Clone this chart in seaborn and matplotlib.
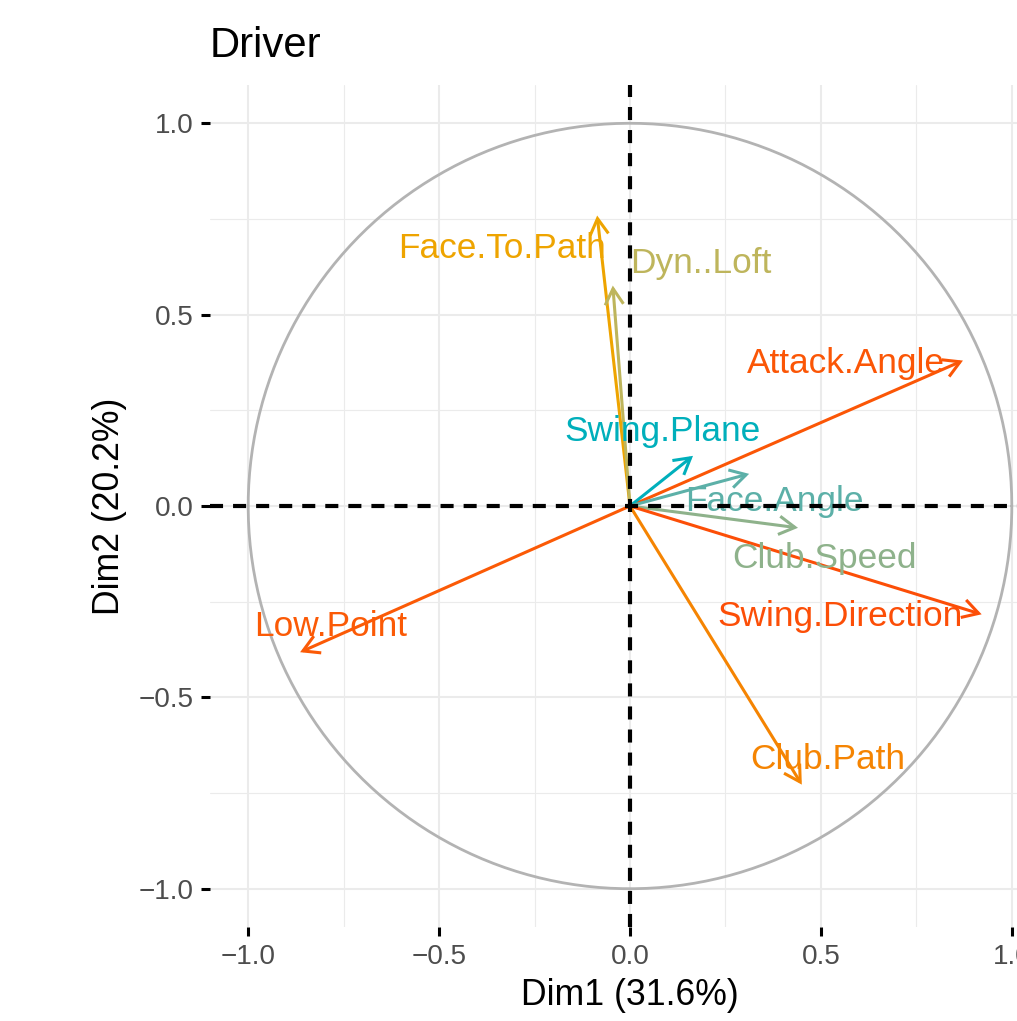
import numpy as np
import matplotlib
matplotlib.use("Agg")
import matplotlib.pyplot as plt
from matplotlib.patches import FancyArrowPatch
import seaborn as sns
import pandas as pd

# ---------------- data ----------------
variables = ["Face.To.Path", "Dyn..Loft", "Attack.Angle", "Swing.Plane", "Face.Angle",
             "Club.Speed", "Swing.Direction", "Low.Point", "Club.Path"]
dim1 = [-0.086, -0.045, 0.872, 0.165, 0.312, 0.440, 0.921, -0.864, 0.450]
dim2 = [0.759, 0.576, 0.380, 0.131, 0.084, -0.057, -0.283, -0.382, -0.728]
# label placement relative to arrow tip (repelled labels), data units
label_dx = [-0.250, 0.231, -0.307, -0.079, 0.065, 0.070, -0.371, 0.079, 0.068]
label_dy = [-0.112, 0.034, -0.033, 0.039, -0.097, -0.105, -0.031, 0.042, 0.041]
gradient_cols = ["#00AFBB", "#E7B800", "#FC4E07"]
xlabel = "Dim1 (31.6%)"
ylabel = "Dim2 (20.2%)"
title = "Driver"
ticks = [-1.0, -0.5, 0.0, 0.5, 1.0]
tick_labels = ["\u22121.0", "\u22120.5", "0.0", "0.5", "1.0"]

df = pd.DataFrame({"var": variables, "x": dim1, "y": dim2})
df["cos2"] = df.x ** 2 + df.y ** 2


# ---------------- colour scale (Lab interpolation like ggplot) ----------------
def hex_to_rgb(h):
    h = h.lstrip("#")
    return np.array([int(h[i:i + 2], 16) / 255 for i in (0, 2, 4)])

M = np.array([[0.4124564, 0.3575761, 0.1804375],
              [0.2126729, 0.7151522, 0.0721750],
              [0.0193339, 0.1191920, 0.9503041]])
WP = np.array([0.95047, 1.0, 1.08883])

def rgb_to_lab(rgb):
    lin = np.where(rgb <= 0.04045, rgb / 12.92, ((rgb + 0.055) / 1.055) ** 2.4)
    xyz = M @ lin / WP
    f = np.where(xyz > (6 / 29) ** 3, np.cbrt(xyz), xyz / (3 * (6 / 29) ** 2) + 4 / 29)
    return np.array([116 * f[1] - 16, 500 * (f[0] - f[1]), 200 * (f[1] - f[2])])

def lab_to_rgb(lab):
    fy = (lab[0] + 16) / 116
    fx = fy + lab[1] / 500
    fz = fy - lab[2] / 200
    f = np.array([fx, fy, fz])
    xyz = np.where(f > 6 / 29, f ** 3, 3 * (6 / 29) ** 2 * (f - 4 / 29)) * WP
    lin = np.linalg.solve(M, xyz)
    lin = np.clip(lin, 0, 1)
    rgb = np.where(lin <= 0.0031308, 12.92 * lin, 1.055 * lin ** (1 / 2.4) - 0.055)
    return np.clip(rgb, 0, 1)

labs = [rgb_to_lab(hex_to_rgb(c)) for c in gradient_cols]

def grad(t):
    t = float(np.clip(t, 0, 1))
    if t <= 0.5:
        u = t / 0.5
        lab = labs[0] * (1 - u) + labs[1] * u
    else:
        u = (t - 0.5) / 0.5
        lab = labs[1] * (1 - u) + labs[2] * u
    return lab_to_rgb(lab)

cmin, cmax = df.cos2.min(), df.cos2.max()
colors = [grad((c - cmin) / (cmax - cmin)) for c in df.cos2]

# ---------------- figure ----------------
sns.set_theme(style="white")
plt.rcParams["font.family"] = ["Liberation Sans", "DejaVu Sans"]
plt.rcParams["lines.scale_dashes"] = False

fig = plt.figure(figsize=(10.17, 10.21), dpi=100)
ax = fig.add_axes([210 / 1017, 94 / 1021, 840 / 1017, 842 / 1021])
ax.set_facecolor("white")
for s in ax.spines.values():
    s.set_visible(False)

ax.set_xlim(-1.1, 1.1)
ax.set_ylim(-1.1, 1.1)
ax.set_xticks(ticks)
ax.set_yticks(ticks)
ax.set_xticklabels(tick_labels)
ax.set_yticklabels(tick_labels)
ax.set_xticks([-0.75, -0.25, 0.25, 0.75], minor=True)
ax.set_yticks([-0.75, -0.25, 0.25, 0.75], minor=True)
ax.grid(True, which="major", color="#EBEBEB", lw=1.45, zorder=0)
ax.grid(True, which="minor", color="#EBEBEB", lw=0.8, zorder=0)
ax.set_axisbelow(True)
ax.tick_params(axis="both", which="major", length=6.5, width=2.2, color="black",
               labelsize=20.1, labelcolor="#4D4D4D", pad=5.5, bottom=True, left=True)
ax.tick_params(axis="both", which="minor", length=0)

# correlation circle
theta = np.linspace(0, 2 * np.pi, 400)
circ = pd.DataFrame({"cx": np.cos(theta), "cy": np.sin(theta), "o": np.arange(400)})
sns.lineplot(data=circ, x="cx", y="cy", sort=False, color="#B3B3B3", lw=2.0, ax=ax,
             zorder=2, estimator=None)

# arrows
for (_, r), c in zip(df.iterrows(), colors):
    arr = FancyArrowPatch((0, 0), (r.x, r.y),
                          arrowstyle="->,head_length=11.5,head_width=6.6",
                          mutation_scale=1, shrinkA=0, shrinkB=0,
                          color=c, lw=2.2, zorder=3, joinstyle="miter", capstyle="butt")
    ax.add_patch(arr)

# labels
for (_, r), c, dx, dy in zip(df.iterrows(), colors, label_dx, label_dy):
    ax.text(r.x + dx, r.y + dy, r["var"], color=c, fontsize=25.4,
            ha="center", va="baseline", zorder=4)

# reference lines
ax.axhline(0, color="black", lw=3.0, ls=(0, (9.4, 7.2)), zorder=5)
ax.axvline(0, color="black", lw=3.0, ls=(0, (9.4, 7.2)), zorder=5)

ax.set_xlabel(xlabel, fontsize=25.7, color="black", labelpad=6)
ax.set_ylabel(ylabel, fontsize=25.7, color="black", labelpad=8)
ax.set_title(title, loc="left", fontsize=30.2, color="black", pad=20)

fig.savefig("out.png", dpi=100, facecolor="white")
